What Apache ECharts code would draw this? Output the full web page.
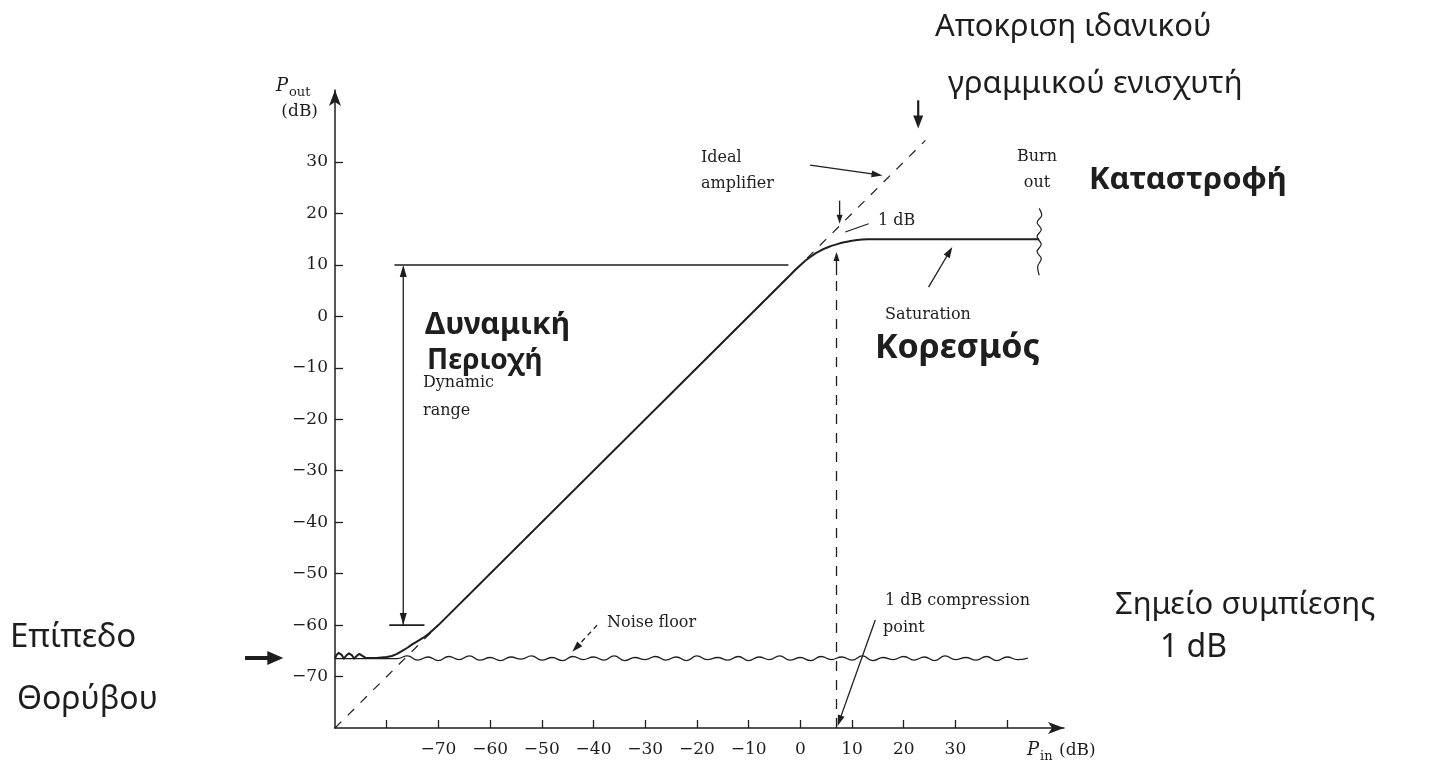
<!DOCTYPE html>
<html><head><meta charset="utf-8">
<script src="https://cdn.jsdelivr.net/npm/echarts@6/dist/echarts.min.js"></script>
<style>html,body{margin:0;padding:0;background:#fff}#c{width:1455px;height:766px}</style>
</head><body><div id="c"></div>
<script>
// ---- axis ticks / labels ----
const xTicks  = [-80,-70,-60,-50,-40,-30,-20,-10,0,10,20,30,40];
const xLabels = [-70,-60,-50,-40,-30,-20,-10,0,10,20,30];
const yTicks  = [-70,-60,-50,-40,-30,-20,-10,0,10,20,30];
const yLabels = [-70,-60,-50,-40,-30,-20,-10,0,10,20,30];

// ---- amplifier response (Pin dB -> Pout dB) ----
const respPin  = [-90,-89.7,-89.3,-89,-88.7,-88.3,-88,-87.7,-87.3,-87,-86.7,-86.3,-86,-85.7,-85.3,-85,-84,-82,-80,-79,-78,-77,-76,-75,-74,-73,-72,-71,-70,
                  -2,-1,0,1,2,3,4,5,6,7,8,9,10,11,12,13,46.2];
const respPout = [-66.5,-65.8,-65.4,-65.4,-65.8,-66.5,-66.5,-65.8,-65.5,-65.5,-65.9,-66.5,-66.5,-65.9,-65.6,-65.6,-66.4,-66.4,-66.2,-66.0,-65.6,-65.0,-64.4,-63.7,-63.1,-62.5,-61.8,-60.9,-60,
                  8,9,9.95,10.85,11.6,12.3,12.85,13.3,13.7,14.0,14.3,14.5,14.7,14.85,14.95,15,15];

// ---- ideal linear amplifier (dashed) ----
const idealPin  = [-90, 24.2];
const idealPout = [-80, 34.2];

// ---- noise floor ----
const noisePin = [-90,-88,-86,-84,-82,-80,-78,
  -76,-74,-72,-70,-68,-66,-64,-62,-60,-58,-56,-54,-52,-50,-48,-46,-44,-42,-40,-38,-36,-34,-32,-30,
  -28,-26,-24,-22,-20,-18,-16,-14,-12,-10,-8,-6,-4,-2,0,2,4,6,8,10,12,14,16,18,20,22,24,26,28,30,
  32,34,36,38,40,42,44];
const noisePout = [-66.5,-66.5,-66.5,-66.5,-66.5,-66.5,-66.5,
  -66.0,-66.8,-66.2,-66.9,-66.1,-66.7,-66.0,-66.8,-66.3,-66.9,
  -66.2,-66.6,-66.0,-66.8,-66.3,-66.9,-66.1,-66.7,-66.2,-66.8,
  -66.0,-66.9,-66.3,-66.7,-66.1,-66.8,-66.2,-66.9,-66.0,-66.7,
  -66.3,-66.8,-66.1,-66.9,-66.2,-66.7,-66.0,-66.8,-66.3,-66.9,
  -66.1,-66.7,-66.2,-66.8,-66.0,-66.9,-66.3,-66.7,-66.1,-66.8,
  -66.2,-66.9,-66.0,-66.7,-66.3,-66.8,-66.1,-66.9,-66.2,-66.7,
  -66.4];

// ---- burn-out squiggle ----
const burnPin  = [46.2,46.7,45.8,46.6,45.8,46.6,45.8,46.6,45.9,46.2];
const burnPout = [21,19.7,18.3,16.9,15.5,14,12.6,11.2,9.6,8];

// ---- 1 dB compression point (dashed vertical) ----
const compPin  = [7, 7];
const compPout = [-80, 8];

// ---- annotation anchors in data coordinates [pin0,pout0,pin1,pout1] ----
const dynTop      = [-78.5, 10, -2.3, 10];
const dynBottom   = [-79.5, -60, -72.7, -60];
const dynArrow    = [-76.8, -60, -76.8, 10];
const arrIdeal    = [1.9, 29.4, 15.9, 27.4];
const arrResponse = [22.8, 42, 22.8, 36.5];
const arr1dBDown  = [7.6, 22.5, 7.6, 18.0];
const arr1dBUp    = [7, 8, 7, 12.5];
const lead1dB     = [8.7, 16.4, 13.2, 18];
const arrSat      = [24.8, 5.7, 29.4, 13.5];
const arrNoise    = [-39.3, -60, -44.1, -65.2];
const arrComp     = [14.5, -59, 7.2, -79.6];
const arrFloorHW  = [-107.4, -66.4, -100.0, -66.4];

const pair = (a, b) => a.map((v, i) => [v, b[i]]);
const INK = '#1e1e1e';
const SERIF = '"DejaVu Serif", "Liberation Serif", serif';
const HAND = '"Noto Sans", "DejaVu Sans", sans-serif';
const fmt = v => (v < 0 ? '\u2212' + Math.abs(v) : String(v));

const chart = echarts.init(document.getElementById('c'));
const axisCommon = {
  type: 'value',
  splitLine: { show: false },
  axisLine: { show: true, onZero: false, symbol: ['none', 'arrow'], symbolSize: [9, 16],
              lineStyle: { color: INK, width: 1.5 } },
  axisTick: { show: true, inside: true, length: 8, lineStyle: { color: INK, width: 1.3 } },
  axisLabel: { color: INK, fontFamily: SERIF, fontSize: 17, formatter: fmt }
};
chart.setOption({
  animation: false,
  backgroundColor: '#fff',
  grid: { left: 335, top: 90, width: 729, height: 638 },
  xAxis: Object.assign({}, axisCommon, {
    min: -90, max: 51,
    axisTick: Object.assign({}, axisCommon.axisTick, { customValues: xTicks }),
    axisLabel: Object.assign({}, axisCommon.axisLabel, { customValues: xLabels, margin: 13 })
  }),
  yAxis: Object.assign({}, axisCommon, {
    min: -80, max: 44,
    axisTick: Object.assign({}, axisCommon.axisTick, { customValues: yTicks }),
    axisLabel: Object.assign({}, axisCommon.axisLabel, { customValues: yLabels, margin: 7 })
  }),
  series: [
    { type: 'line', data: pair(noisePin, noisePout), smooth: 0.5, showSymbol: false,
      lineStyle: { color: INK, width: 1.3 }, clip: false, z: 2 },
    { type: 'line', data: pair(idealPin, idealPout), showSymbol: false,
      lineStyle: { color: INK, width: 1.2, type: [9, 9] }, z: 2 },
    { type: 'line', data: pair(respPin, respPout), smooth: false, showSymbol: false,
      lineStyle: { color: INK, width: 2, join: 'round' }, z: 3 },
    { type: 'line', data: pair(burnPin, burnPout), smooth: 0.4, showSymbol: false,
      lineStyle: { color: INK, width: 1.2 }, clip: false, z: 3 },
    { type: 'line', data: pair(compPin, compPout), showSymbol: false,
      lineStyle: { color: INK, width: 1.3, type: [10, 9] }, z: 2 }
  ]
});

function px(p) { return chart.convertToPixel({ xAxisIndex: 0, yAxisIndex: 0 }, p); }
function seg(a, w, dash) {
  const p0 = px([a[0], a[1]]), p1 = px([a[2], a[3]]);
  return { type: 'line', z: 10, shape: { x1: p0[0], y1: p0[1], x2: p1[0], y2: p1[1] },
           style: { stroke: INK, lineWidth: w || 1.3, lineDash: dash || null } };
}
function head(from, to, hl, hw) {
  const dx = to[0] - from[0], dy = to[1] - from[1], L = Math.hypot(dx, dy);
  const ux = dx / L, uy = dy / L, bx = to[0] - ux * hl, by = to[1] - uy * hl;
  return { type: 'polygon', z: 10,
           shape: { points: [[to[0], to[1]], [bx - uy * hw, by + ux * hw], [bx + uy * hw, by - ux * hw]] },
           style: { fill: INK } };
}
function arrow(a, opt) {
  opt = opt || {};
  const p0 = px([a[0], a[1]]), p1 = px([a[2], a[3]]);
  const hl = opt.hl || 11, hw = opt.hw || 3.5;
  const L = Math.hypot(p1[0] - p0[0], p1[1] - p0[1]);
  const ex = p1[0] - (p1[0] - p0[0]) / L * hl * 0.8, ey = p1[1] - (p1[1] - p0[1]) / L * hl * 0.8;
  const out = [{ type: 'line', z: 10, shape: { x1: p0[0], y1: p0[1], x2: ex, y2: ey },
                 style: { stroke: INK, lineWidth: opt.w || 1.3, lineDash: opt.dash || null } },
               head(p0, p1, hl, hw)];
  if (opt.both) out.push(head(p1, p0, hl, hw));
  return out;
}
function txt(s, x, y, font, align) {
  return { type: 'text', z: 12, x: x, y: y,
           style: { text: s, font: font, fill: INK, align: align || 'left', verticalAlign: 'middle',
                    textAlign: align || 'left', textVerticalAlign: 'middle' } };
}
const P = '16px ' + SERIF;
const els = [].concat(
  seg(dynTop, 1.6), seg(dynBottom, 1.6),
  arrow(dynArrow, { both: true, w: 1.3, hl: 12, hw: 3.5 }),
  arrow(arrIdeal), arrow(arrResponse, { w: 2.2, hl: 13, hw: 5 }),
  arrow(arr1dBDown, { hl: 9, hw: 3 }), arrow(arr1dBUp, { hl: 9, hw: 3 }),
  seg(lead1dB, 1.2), arrow(arrSat), arrow(arrNoise, { dash: [5, 4] }),
  arrow(arrComp), arrow(arrFloorHW, { w: 4, hl: 16, hw: 7 }),
  [
    txt('P', 276, 86, 'italic 18px ' + SERIF, 'left'),
    txt('out', 289, 93, '13px ' + SERIF, 'left'),
    txt('(dB)', 318, 112, '17px ' + SERIF, 'right'),
    txt('P', 1027, 750, 'italic 18px ' + SERIF, 'left'),
    txt('in', 1040, 757, '13px ' + SERIF, 'left'),
    txt('(dB)', 1059, 751, '17px ' + SERIF, 'left'),
    txt('Ideal', 701, 158, P), txt('amplifier', 701, 184, P),
    txt('Burn', 1037, 157, P, 'center'), txt('out', 1037, 183, P, 'center'),
    txt('1 dB', 878, 221, P),
    txt('Saturation', 885, 315, P),
    txt('Dynamic', 423, 383, P), txt('range', 423, 411, P),
    txt('Noise floor', 607, 623, P),
    txt('1 dB compression', 885, 601, P), txt('point', 883, 628, P),
    // handwritten Greek notes
    txt('Αποκριση ιδανικού', 935, 27, '31px ' + HAND),
    txt('γραμμικού ενισχυτή', 948, 84, '31px ' + HAND),
    txt('Καταστροφή', 1089, 180, 'bold 31px ' + HAND),
    txt('Κορεσμός', 875, 348, 'bold 34px ' + HAND),
    txt('Δυναμική', 425, 325, 'bold 30px ' + HAND),
    txt('Περιοχή', 427, 361, 'bold 28px ' + HAND),
    txt('Σημείο συμπίεσης', 1115, 605, '31px ' + HAND),
    txt('1 dB', 1160, 648, '32px ' + HAND),
    txt('Επίπεδο', 10, 638, '33px ' + HAND),
    txt('Θορύβου', 17, 700, '32px ' + HAND)
  ]
);
chart.setOption({ graphic: { elements: els } });
</script></body></html>
